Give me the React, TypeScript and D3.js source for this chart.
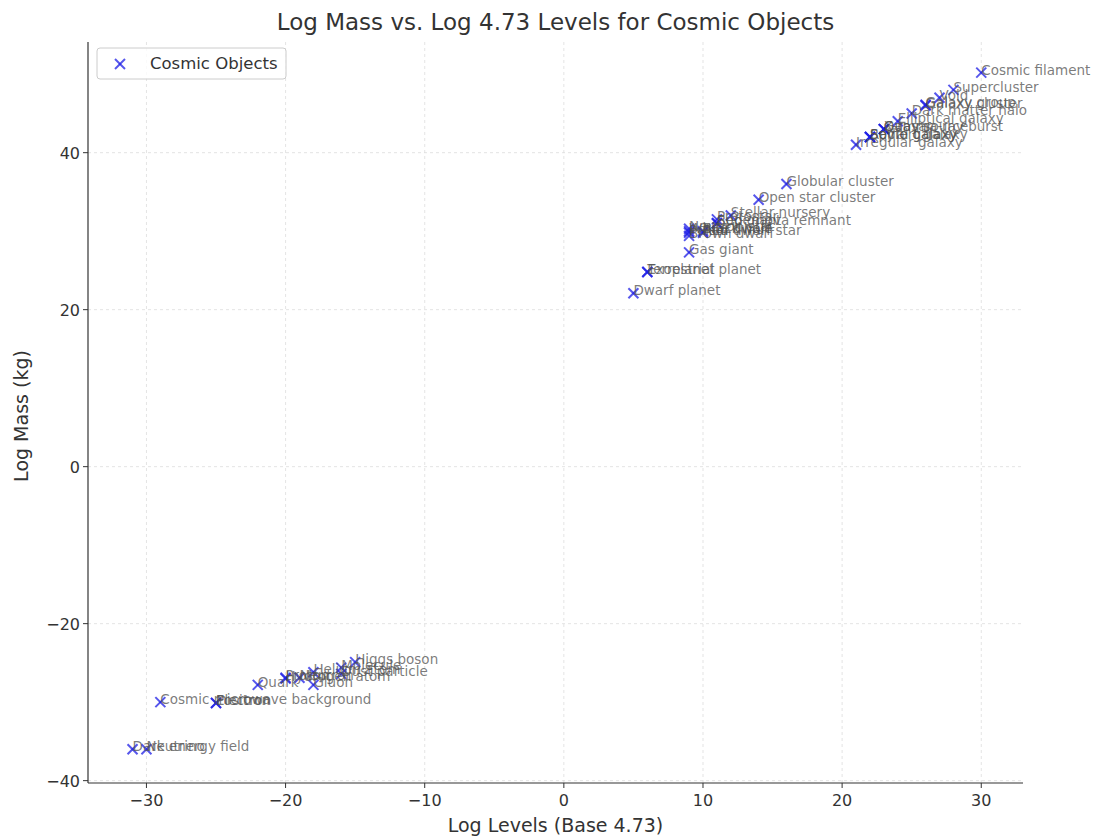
import React from "react";
import * as d3 from "d3";

const names: string[] = [
  "Cosmic filament", "Supercluster", "Void", "Galaxy cluster", "Galaxy group",
  "Dark matter halo", "Elliptical galaxy", "Gamma-ray burst", "Quasar", "X-ray source",
  "Spiral galaxy", "Radio galaxy", "Seyfert galaxy", "Irregular galaxy",
  "Globular cluster", "Open star cluster", "Stellar nursery", "Protostar", "Supernova remnant",
  "Red giant", "Neutron star", "White dwarf", "Pulsar", "Black hole", "Red dwarf star",
  "Brown dwarf", "Gas giant", "Terrestrial planet", "Exoplanet", "Dwarf planet",
  "Higgs boson", "Molecule", "Dust particle", "Helium atom", "Proton", "Neutron", "Hydrogen atom",
  "Quark", "Gluon", "Cosmic microwave background", "Electron", "Positron",
  "Dark energy field", "Neutrino",
];
const logLevels: number[] = [
  30, 28, 27, 26, 26,
  25, 24, 23, 23, 23,
  22, 22, 22, 21,
  16, 14, 12, 11, 11,
  11, 9, 9, 9, 10, 10,
  9, 9, 6, 6, 5,
  -15, -16, -16, -18, -20, -19, -20,
  -22, -18, -29, -25, -25,
  -31, -30,
];
const logMass: number[] = [
  50.2, 48, 47, 46, 46.1,
  45, 44, 43, 43, 43,
  42, 42, 42, 41,
  36, 34, 32, 31.5, 31,
  31, 30.3, 30, 29.8, 30, 29.8,
  29.4, 27.3, 24.8, 24.8, 22.1,
  -24.9, -25.6, -26.4, -26.2, -26.9, -26.9, -27,
  -27.8, -27.8, -30, -30.1, -30.1,
  -36, -36,
];
const xTicks: number[] = [-30, -20, -10, 0, 10, 20, 30];
const yTicks: number[] = [-40, -20, 0, 20, 40];

const W = 1094, H = 840;
const L = 88, R = 1023, T = 42, B = 783;
const FONT = "DejaVu Sans, sans-serif";

export default function App() {
  const x = d3.scaleLinear().domain([-34.2, 33.0]).range([L, R]);
  const y = d3.scaleLinear().domain([-40.3, 54.1]).range([B, T]);
  const blue = "rgba(30,30,230,0.75)";
  const cross = (cx: number, cy: number, s: number, key?: any) => (
    <g key={key} stroke={blue} strokeWidth={2}>
      <line x1={cx - s} y1={cy - s} x2={cx + s} y2={cy + s} />
      <line x1={cx - s} y1={cy + s} x2={cx + s} y2={cy - s} />
    </g>
  );
  return (
    <svg width={W} height={H} style={{ position: "absolute", left: 0, top: 0, background: "#fff" }} fontFamily={FONT}>
      <rect x={0} y={0} width={W} height={H} fill="#fff" />
      <text x={(L + R) / 2} y={30} textAnchor="middle" fontSize={23} fill="#333">
        Log Mass vs. Log 4.73 Levels for Cosmic Objects
      </text>
      {xTicks.map((t) => (
        <line key={"gx" + t} x1={x(t)} x2={x(t)} y1={T} y2={B} stroke="#ddd" strokeDasharray="3,3" strokeWidth={0.8} />
      ))}
      {yTicks.map((t) => (
        <line key={"gy" + t} x1={L} x2={R} y1={y(t)} y2={y(t)} stroke="#ddd" strokeDasharray="3,3" strokeWidth={0.8} />
      ))}
      <line x1={L} x2={L} y1={T} y2={B} stroke="#333" strokeWidth={1.2} />
      <line x1={L} x2={R} y1={B} y2={B} stroke="#333" strokeWidth={1.2} />
      {xTicks.map((t) => (
        <g key={"tx" + t}>
          <line x1={x(t)} x2={x(t)} y1={B} y2={B + 5} stroke="#333" />
          <text x={x(t)} y={B + 23} textAnchor="middle" fontSize={16} fill="#333">
            {t < 0 ? "\u2212" + Math.abs(t) : t}
          </text>
        </g>
      ))}
      {yTicks.map((t) => (
        <g key={"ty" + t}>
          <line x1={L - 5} x2={L} y1={y(t)} y2={y(t)} stroke="#333" />
          <text x={L - 8} y={y(t) + 6} textAnchor="end" fontSize={16} fill="#333">
            {t < 0 ? "\u2212" + Math.abs(t) : t}
          </text>
        </g>
      ))}
      <text x={(L + R) / 2} y={832} textAnchor="middle" fontSize={19} fill="#333">Log Levels (Base 4.73)</text>
      <text transform={`translate(28,${416}) rotate(-90)`} textAnchor="middle" fontSize={19} fill="#333">Log Mass (kg)</text>
      {names.map((n, i) => cross(x(logLevels[i]), y(logMass[i]), 5, "p" + i))}
      {names.map((n, i) => (
        <text key={"l" + i} x={x(logLevels[i])} y={y(logMass[i]) - 2} dominantBaseline="middle" fontSize={13.5} fill="rgba(80,80,80,0.75)">
          {n}
        </text>
      ))}
      <rect x={97} y={48} width={189} height={31} rx={3} fill="rgba(255,255,255,0.8)" stroke="#ccc" />
      {cross(120, 64, 5)}
      <text x={150} y={69} fontSize={16.5} fill="#333">Cosmic Objects</text>
    </svg>
  );
}
